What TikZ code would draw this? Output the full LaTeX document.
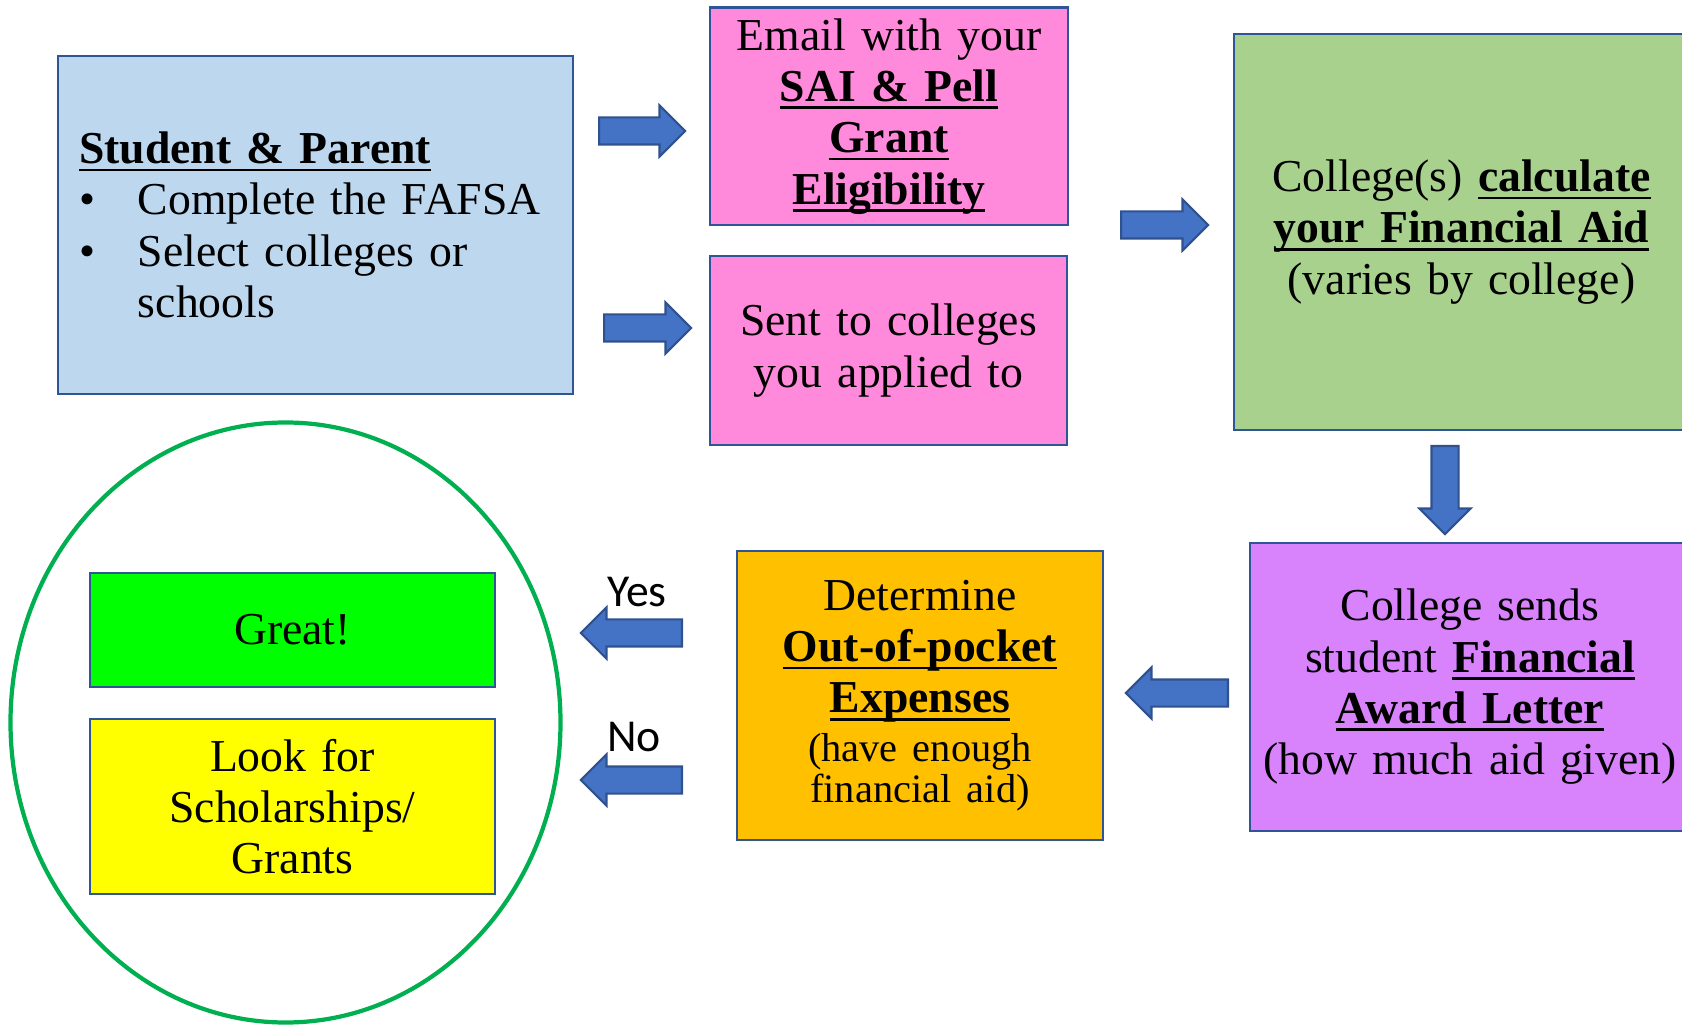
\documentclass[tikz,border=0pt]{standalone}
\usepackage{fontspec}
\setmainfont{Liberation Serif}
\newfontfamily\answerfont{Carlito}
\usetikzlibrary{shapes.arrows}

\definecolor{boxline}{HTML}{2F5597}
\definecolor{studentblue}{HTML}{BDD7EE}
\definecolor{pinkbox}{HTML}{FF89DA}
\definecolor{calcgreen}{HTML}{A9D18E}
\definecolor{awardpurple}{HTML}{D883FC}
\definecolor{costorange}{HTML}{FFC000}
\definecolor{greatgreen}{HTML}{00FF00}
\definecolor{lookyellow}{HTML}{FFFF00}
\definecolor{ringgreen}{HTML}{00B050}
\definecolor{arrowblue}{HTML}{4472C4}
\definecolor{arrowline}{HTML}{2F528F}

\newsavebox\keybox
\newcommand{\keyterm}[1]{\textbf{\sbox\keybox{#1}%
  \rlap{\rule[-2.2pt]{\wd\keybox}{0.8pt}}\usebox\keybox}}

\begin{document}
\begin{tikzpicture}[
    box/.style={draw=boxline, line width=0.8pt, inner sep=0pt, align=center,
                font=\fontsize{13}{14.6}\selectfont},
    blockarrow/.style={single arrow, draw=arrowline, fill=arrowblue, line width=0.6pt,
                minimum height=#1, inner xsep=0pt, inner ysep=0.125cm,
                single arrow head extend=0.12cm, anchor=tail},
    answer/.style={inner sep=0pt, font=\answerfont\fontsize{13}{15}\selectfont}
  ]
  \useasboundingbox (0,0) rectangle (16.82,10.24);
  \clip (0,0) rectangle (16.82,10.24);

  % first row
  \node[box, fill=studentblue, minimum width=5.15cm, minimum height=3.38cm,
        text width=4.73cm, align=left] (student) at (3.155,7.99)
    {\keyterm{Student \& Parent}\\
     \makebox[0.59cm][l]{\textbullet}Complete the FAFSA\\
     \makebox[0.59cm][l]{\textbullet}Select colleges or\\
     \hspace*{0.59cm}schools};
  \node[box, fill=pinkbox, minimum width=3.58cm, minimum height=2.175cm,
        text width=3.4cm] (email) at (8.89,9.077)
    {Email with your\\ \keyterm{SAI \& Pell}\\ \keyterm{Grant}\\ \keyterm{Eligibility}};
  \node[box, fill=pinkbox, minimum width=3.57cm, minimum height=1.89cm,
        text width=3.4cm] (sent) at (8.885,6.735)
    {Sent to colleges\\ you applied to};
  \node[box, fill=calcgreen, minimum width=4.55cm, minimum height=3.96cm,
        text width=4.3cm] (calc) at (14.615,7.92)
    {College(s) \keyterm{calculate}\\ \keyterm{your Financial Aid}\\ (varies by college)};

  % second row
  \node[box, fill=awardpurple, minimum width=4.4cm, minimum height=2.88cm,
        text width=4.2cm] (award) at (14.70,3.37)
    {College sends\\ student \keyterm{Financial}\\ \keyterm{Award Letter}\\ (how much aid given)};
  \node[box, fill=costorange, minimum width=3.66cm, minimum height=2.89cm,
        text width=3.5cm] (cost) at (9.2,3.285)
    {Determine\\ \keyterm{Out-of-pocket}\\ \keyterm{Expenses}\\[2pt]
     {\fontsize{11.5}{11.7}\selectfont (have enough\\ financial aid)\par}};

  % outcomes
  \draw[ringgreen, line width=1.2pt] (2.855,3.015) ellipse [x radius=2.75, y radius=3.0];
  \node[box, fill=greatgreen, minimum width=4.05cm, minimum height=1.14cm,
        text width=3.9cm] (great) at (2.925,3.94) {Great!};
  \node[box, fill=lookyellow, minimum width=4.05cm, minimum height=1.75cm,
        text width=3.9cm] (look) at (2.925,2.175) {Look for\\ Scholarships/\\ Grants};

  % block arrows, placed by their tails
  \node[blockarrow=0.86cm] (toemail) at (5.98,8.93) {};
  \node[blockarrow=0.87cm] (tosent) at (6.03,6.96) {};
  \node[blockarrow=0.87cm] (tocalc) at (11.20,7.99) {};
  \node[blockarrow=0.88cm, rotate=-90] (toaward) at (14.45,5.79) {};
  \node[blockarrow=1.02cm, rotate=180] (tocost) at (12.29,3.31) {};
  \node[blockarrow=1.01cm, rotate=180] (toyes) at (6.83,3.91) {};
  \node[blockarrow=1.01cm, rotate=180] (tono) at (6.83,2.44) {};

  \node[answer] (yes) at (6.37,4.32) {Yes};
  \node[answer] (no) at (6.34,2.87) {No};
\end{tikzpicture}
\end{document}
